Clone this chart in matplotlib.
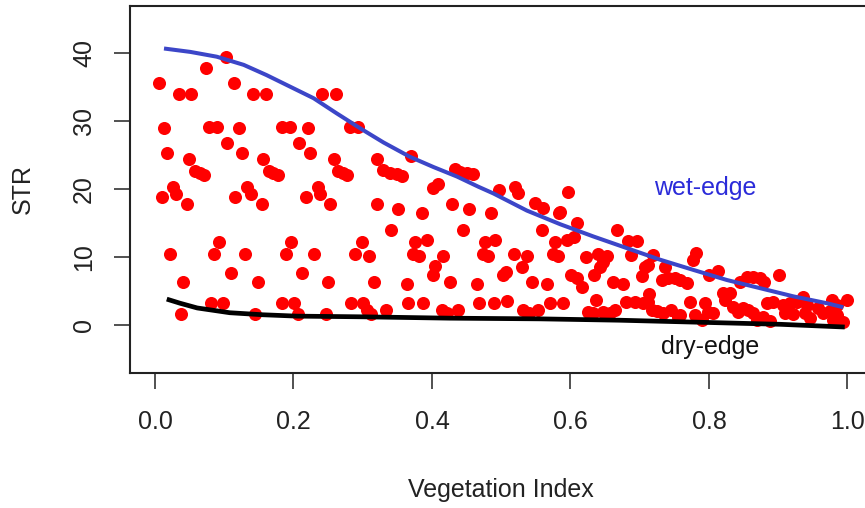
import matplotlib
matplotlib.use("Agg")
import matplotlib.pyplot as plt

plt.rcParams['font.family'] = ['Liberation Sans', 'DejaVu Sans']

# ---- scatter data (Vegetation Index, STR) ----
vi_a = [0.006,0.013,0.017,0.010,0.026,0.030,0.046,0.022,0.040,0.038,0.035,0.052,0.049,0.058,0.065,0.071,
        0.074,0.078,0.090,0.103,0.114,0.121,0.104,0.126,0.142,0.160,0.156,0.165,0.170,0.178,0.133,0.183,
        0.195,0.208,0.221,0.224,0.235,0.241,0.261,0.258,0.264,0.271,0.277,0.282,0.293,0.321]
str_a = [35.5,28.9,25.3,18.8,20.3,19.2,17.8,10.4,6.3,1.6,33.9,33.9,24.4,22.6,22.3,22.0,
         37.7,29.1,29.1,39.4,35.5,28.9,26.7,25.3,33.9,33.9,24.4,22.6,22.3,22.0,20.3,29.1,
         29.1,26.7,28.9,25.3,20.3,33.9,33.9,24.4,22.6,22.3,22.0,29.1,29.1,24.4]

vi_b = [0.116,0.139,0.155,0.081,0.098,0.085,0.092,0.130,0.110,0.149,0.144,0.218,0.238,0.253,0.183,0.201,
        0.206,0.189,0.196,0.230,0.212,0.250,0.247,0.283,0.300,0.306,0.312,0.289,0.299,0.309,0.316,0.321]
str_b = [18.8,19.2,17.8,3.2,3.2,10.4,12.2,10.4,7.6,6.3,1.6,18.8,19.2,17.8,3.2,3.2,
         1.6,10.4,12.2,10.4,7.6,6.3,1.6,3.2,3.2,2.2,1.6,10.4,12.2,10.1,6.3,17.8]

vi_c = [0.329,0.339,0.349,0.357,0.370,0.409,0.401,0.433,0.440,0.451,0.459,0.497,0.520,0.596,0.524,0.585]
str_c = [22.8,22.3,22.2,21.9,24.8,20.7,20.1,22.9,22.5,22.3,22.2,19.8,20.3,19.5,19.4,16.6]

vi_d = [0.334,0.341,0.351,0.364,0.365,0.375,0.373,0.381,0.386,0.393,0.387,0.404,0.401,0.416,0.414,0.422,
        0.438,0.426,0.429,0.445,0.453,0.465,0.468,0.477,0.474,0.481,0.491,0.485,0.490,0.503,0.507,0.518,
        0.508,0.531,0.540,0.553,0.530,0.537,0.544,0.549,0.560,0.559,0.566,0.570,0.583,0.575,0.582,0.578,
        0.589,0.595,0.605,0.601,0.609,0.617,0.609,0.622,0.625,0.632,0.637,0.634,0.643,0.647,0.640,0.653,
        0.647,0.657,0.661,0.667,0.664]
str_d = [2.2,13.9,17.0,6.0,3.2,12.2,10.4,10.1,16.4,12.5,3.2,8.7,7.3,10.1,2.2,1.8,
         2.2,6.3,17.8,13.9,17.0,6.0,3.2,12.2,10.4,10.1,12.5,16.4,3.2,7.3,7.8,10.4,
         3.5,2.2,1.8,2.2,8.5,10.1,6.3,17.9,17.2,13.9,6.0,3.2,16.4,10.4,10.1,12.2,
         3.2,12.5,12.9,7.3,6.9,5.6,15.0,10.0,1.9,1.8,3.7,7.3,8.5,9.3,10.4,10.1,
         1.9,1.8,6.3,13.9,2.2]

vi_e = [0.683,0.696,0.687,0.676,0.680,0.693,0.705,0.708,0.703,0.712,0.713,0.718,0.719,0.725,0.734,0.745,
        0.755,0.736,0.732,0.741,0.751,0.758,0.768,0.773,0.781,0.777,0.790,0.794,0.799,0.806,0.800,0.813,
        0.820,0.823,0.830,0.835,0.842,0.849,0.856,0.845,0.855,0.864,0.874,0.879,0.864,0.878,0.884,0.892,
        0.901,0.888,0.907,0.917,0.927,0.910,0.921,0.936,0.942,0.939,0.946,0.957,0.965,0.975,0.978,0.985,
        0.999,0.985,0.994,0.979,0.712,0.758,0.780,0.870]
str_e = [12.3,12.3,10.3,6.0,3.4,3.4,3.2,8.5,7.2,8.8,4.6,2.2,10.3,2.1,1.8,2.2,
         1.2,8.5,6.6,6.9,6.9,6.6,6.2,3.4,10.6,9.5,0.7,3.2,1.9,1.8,7.3,7.9,
         4.7,3.7,4.7,2.6,1.9,2.5,2.2,6.3,7.0,7.0,6.9,6.3,1.8,1.2,3.2,3.4,
         7.3,0.6,2.9,3.2,3.4,1.8,1.6,4.1,2.9,1.8,1.0,2.5,1.8,2.1,3.7,2.9,
         3.7,1.5,0.4,0.7,3.4,1.5,1.5,0.7]

vi_pts = vi_a + vi_b + vi_c + vi_d + vi_e
str_pts = str_a + str_b + str_c + str_d + str_e

# ---- fitted edges ----
wet_x = [0.013,0.051,0.089,0.128,0.161,0.195,0.229,0.262,0.296,0.330,0.368,0.402,0.436,0.467,
         0.489,0.537,0.585,0.633,0.681,0.729,0.777,0.826,0.874,0.922,0.970,0.994]
wet_y = [40.6,40.1,39.4,38.2,36.7,35.0,33.3,31.1,28.9,26.8,24.7,23.2,21.8,20.3,
         19.3,16.8,14.8,13.0,11.3,9.6,8.1,6.6,5.4,4.2,3.2,2.6]

dry_x = [0.017,0.036,0.061,0.108,0.156,0.205,0.300,0.426,0.556,0.671,0.787,0.903,0.996]
dry_y = [3.8,3.2,2.5,1.8,1.5,1.3,1.2,1.0,0.9,0.7,0.4,0.1,-0.3]

xticks = [0.0, 0.2, 0.4, 0.6, 0.8, 1.0]
xtick_labels = ["0.0", "0.2", "0.4", "0.6", "0.8", "1.0"]
yticks = [0, 10, 20, 30, 40]
ytick_labels = ["0", "10", "20", "30", "40"]

fig = plt.figure(figsize=(8.65, 5.08), dpi=100)
ax = fig.add_axes([130/865, (508-373)/508, (872-130)/865, (373-6)/508])

ax.plot(vi_pts, str_pts, 'o', color='#ff0000', markersize=9.4, markeredgewidth=0, zorder=2)
ax.plot(wet_x, wet_y, color='#3c46c8', linewidth=2.9, solid_capstyle='butt',
        solid_joinstyle='round', zorder=3)
ax.plot(dry_x, dry_y, color='black', linewidth=3.4, solid_capstyle='butt',
        solid_joinstyle='round', zorder=3)

ax.text(0.794, 20.1, "wet-edge", color='#2b2bd9', fontsize=18, ha='center', va='center')
ax.text(0.801, -3.2, "dry-edge", color='#111111', fontsize=18, ha='center', va='center')

ax.set_xlim(-0.0361, 1.0354)
ax.set_ylim(-7.05, 46.84)

ax.set_xticks(xticks)
ax.set_xticklabels(xtick_labels)
ax.set_yticks(yticks)
ax.set_yticklabels(ytick_labels, rotation=90, va='center')
ax.tick_params(axis='both', direction='out', length=11.5, width=1.2, color='#333333',
               labelsize=18, labelcolor='#222222')
ax.tick_params(axis='x', pad=15)
ax.tick_params(axis='y', pad=13)

for s in ax.spines.values():
    s.set_linewidth(1.5)
    s.set_color('#222222')

ax.set_xlabel("Vegetation Index", fontsize=18, color='#222222')
ax.set_ylabel("STR", fontsize=18, color='#222222')
ax.xaxis.set_label_coords(0.5, -(490-373)/367)
ax.yaxis.set_label_coords((23-130)/742, 0.5)
ax.xaxis.label.set_va('center')
ax.yaxis.label.set_va('center')

fig.savefig("out.png", dpi=100)
